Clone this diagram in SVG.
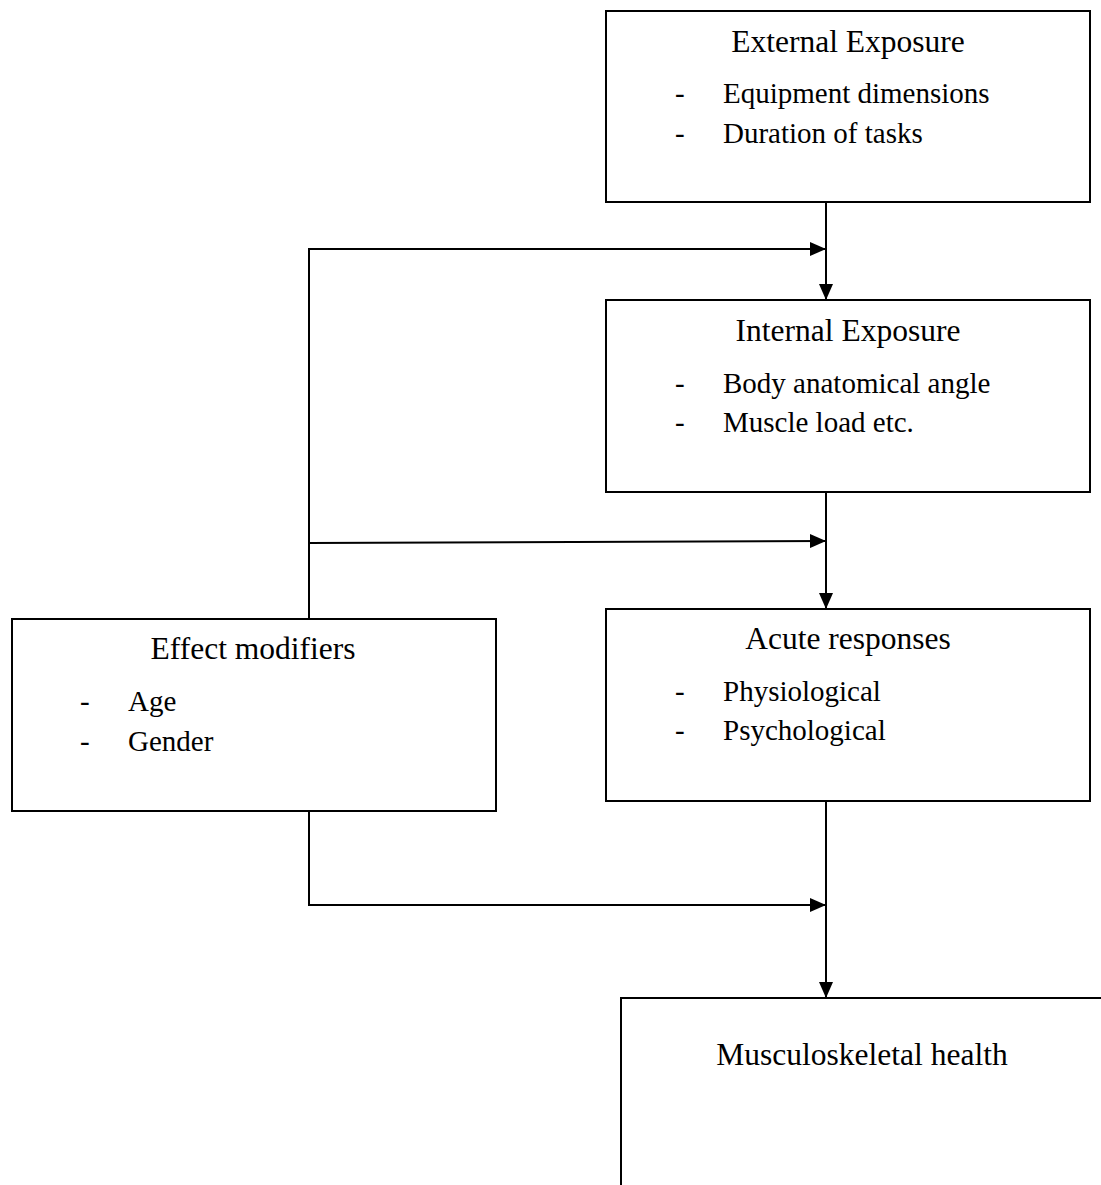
<svg xmlns="http://www.w3.org/2000/svg" width="1101" height="1185" viewBox="0 0 1101 1185">
<style>
.box{fill:#fff;stroke:#000;stroke-width:2}
.ln{fill:none;stroke:#000;stroke-width:2}
.t{font-family:"Liberation Serif","Times New Roman",serif;font-size:31.5px;fill:#000}
.i{font-family:"Liberation Serif","Times New Roman",serif;font-size:29px;fill:#000}
.c{text-anchor:middle}
</style>
<defs>
<marker id="ah" viewBox="0 0 16 14" refX="16" refY="7" markerWidth="16" markerHeight="14" markerUnits="userSpaceOnUse" orient="auto">
<path d="M0,0 L16,7 L0,14 Z" fill="#000"/>
</marker>
</defs>
<rect width="1101" height="1185" fill="#fff"/>
<g id="connectors">
<line class="ln" x1="826" y1="202" x2="826" y2="300" marker-end="url(#ah)"/>
<polyline class="ln" points="309,619 309,249 826,249" marker-end="url(#ah)"/>
<line class="ln" x1="826" y1="492" x2="826" y2="609" marker-end="url(#ah)"/>
<line class="ln" x1="309" y1="543" x2="826" y2="541" marker-end="url(#ah)"/>
<line class="ln" x1="826" y1="801" x2="826" y2="998" marker-end="url(#ah)"/>
<polyline class="ln" points="309,811 309,905 826,905" marker-end="url(#ah)"/>
</g>
<g id="external">
<rect class="box" x="606" y="11" width="484" height="191"/>
<text class="t c" x="848" y="52">External Exposure</text>
<text class="i" x="675" y="103">-</text><text class="i" x="723" y="103">Equipment dimensions</text>
<text class="i" x="675" y="143">-</text><text class="i" x="723" y="143">Duration of tasks</text>
</g>
<g id="internal">
<rect class="box" x="606" y="300" width="484" height="192"/>
<text class="t c" x="848" y="341">Internal Exposure</text>
<text class="i" x="675" y="393">-</text><text class="i" x="723" y="393">Body anatomical angle</text>
<text class="i" x="675" y="432">-</text><text class="i" x="723" y="432">Muscle load etc.</text>
</g>
<g id="acute">
<rect class="box" x="606" y="609" width="484" height="192"/>
<text class="t c" x="848" y="649">Acute responses</text>
<text class="i" x="675" y="701">-</text><text class="i" x="723" y="701">Physiological</text>
<text class="i" x="675" y="740">-</text><text class="i" x="723" y="740">Psychological</text>
</g>
<g id="effect">
<rect class="box" x="12" y="619" width="484" height="192"/>
<text class="t c" x="253" y="659">Effect modifiers</text>
<text class="i" x="80" y="711">-</text><text class="i" x="128" y="711">Age</text>
<text class="i" x="80" y="751">-</text><text class="i" x="128" y="751">Gender</text>
</g>
<g id="musculoskeletal">
<rect class="box" x="621" y="998" width="500" height="220"/>
<text class="t c" x="862" y="1065">Musculoskeletal health</text>
</g>
</svg>
